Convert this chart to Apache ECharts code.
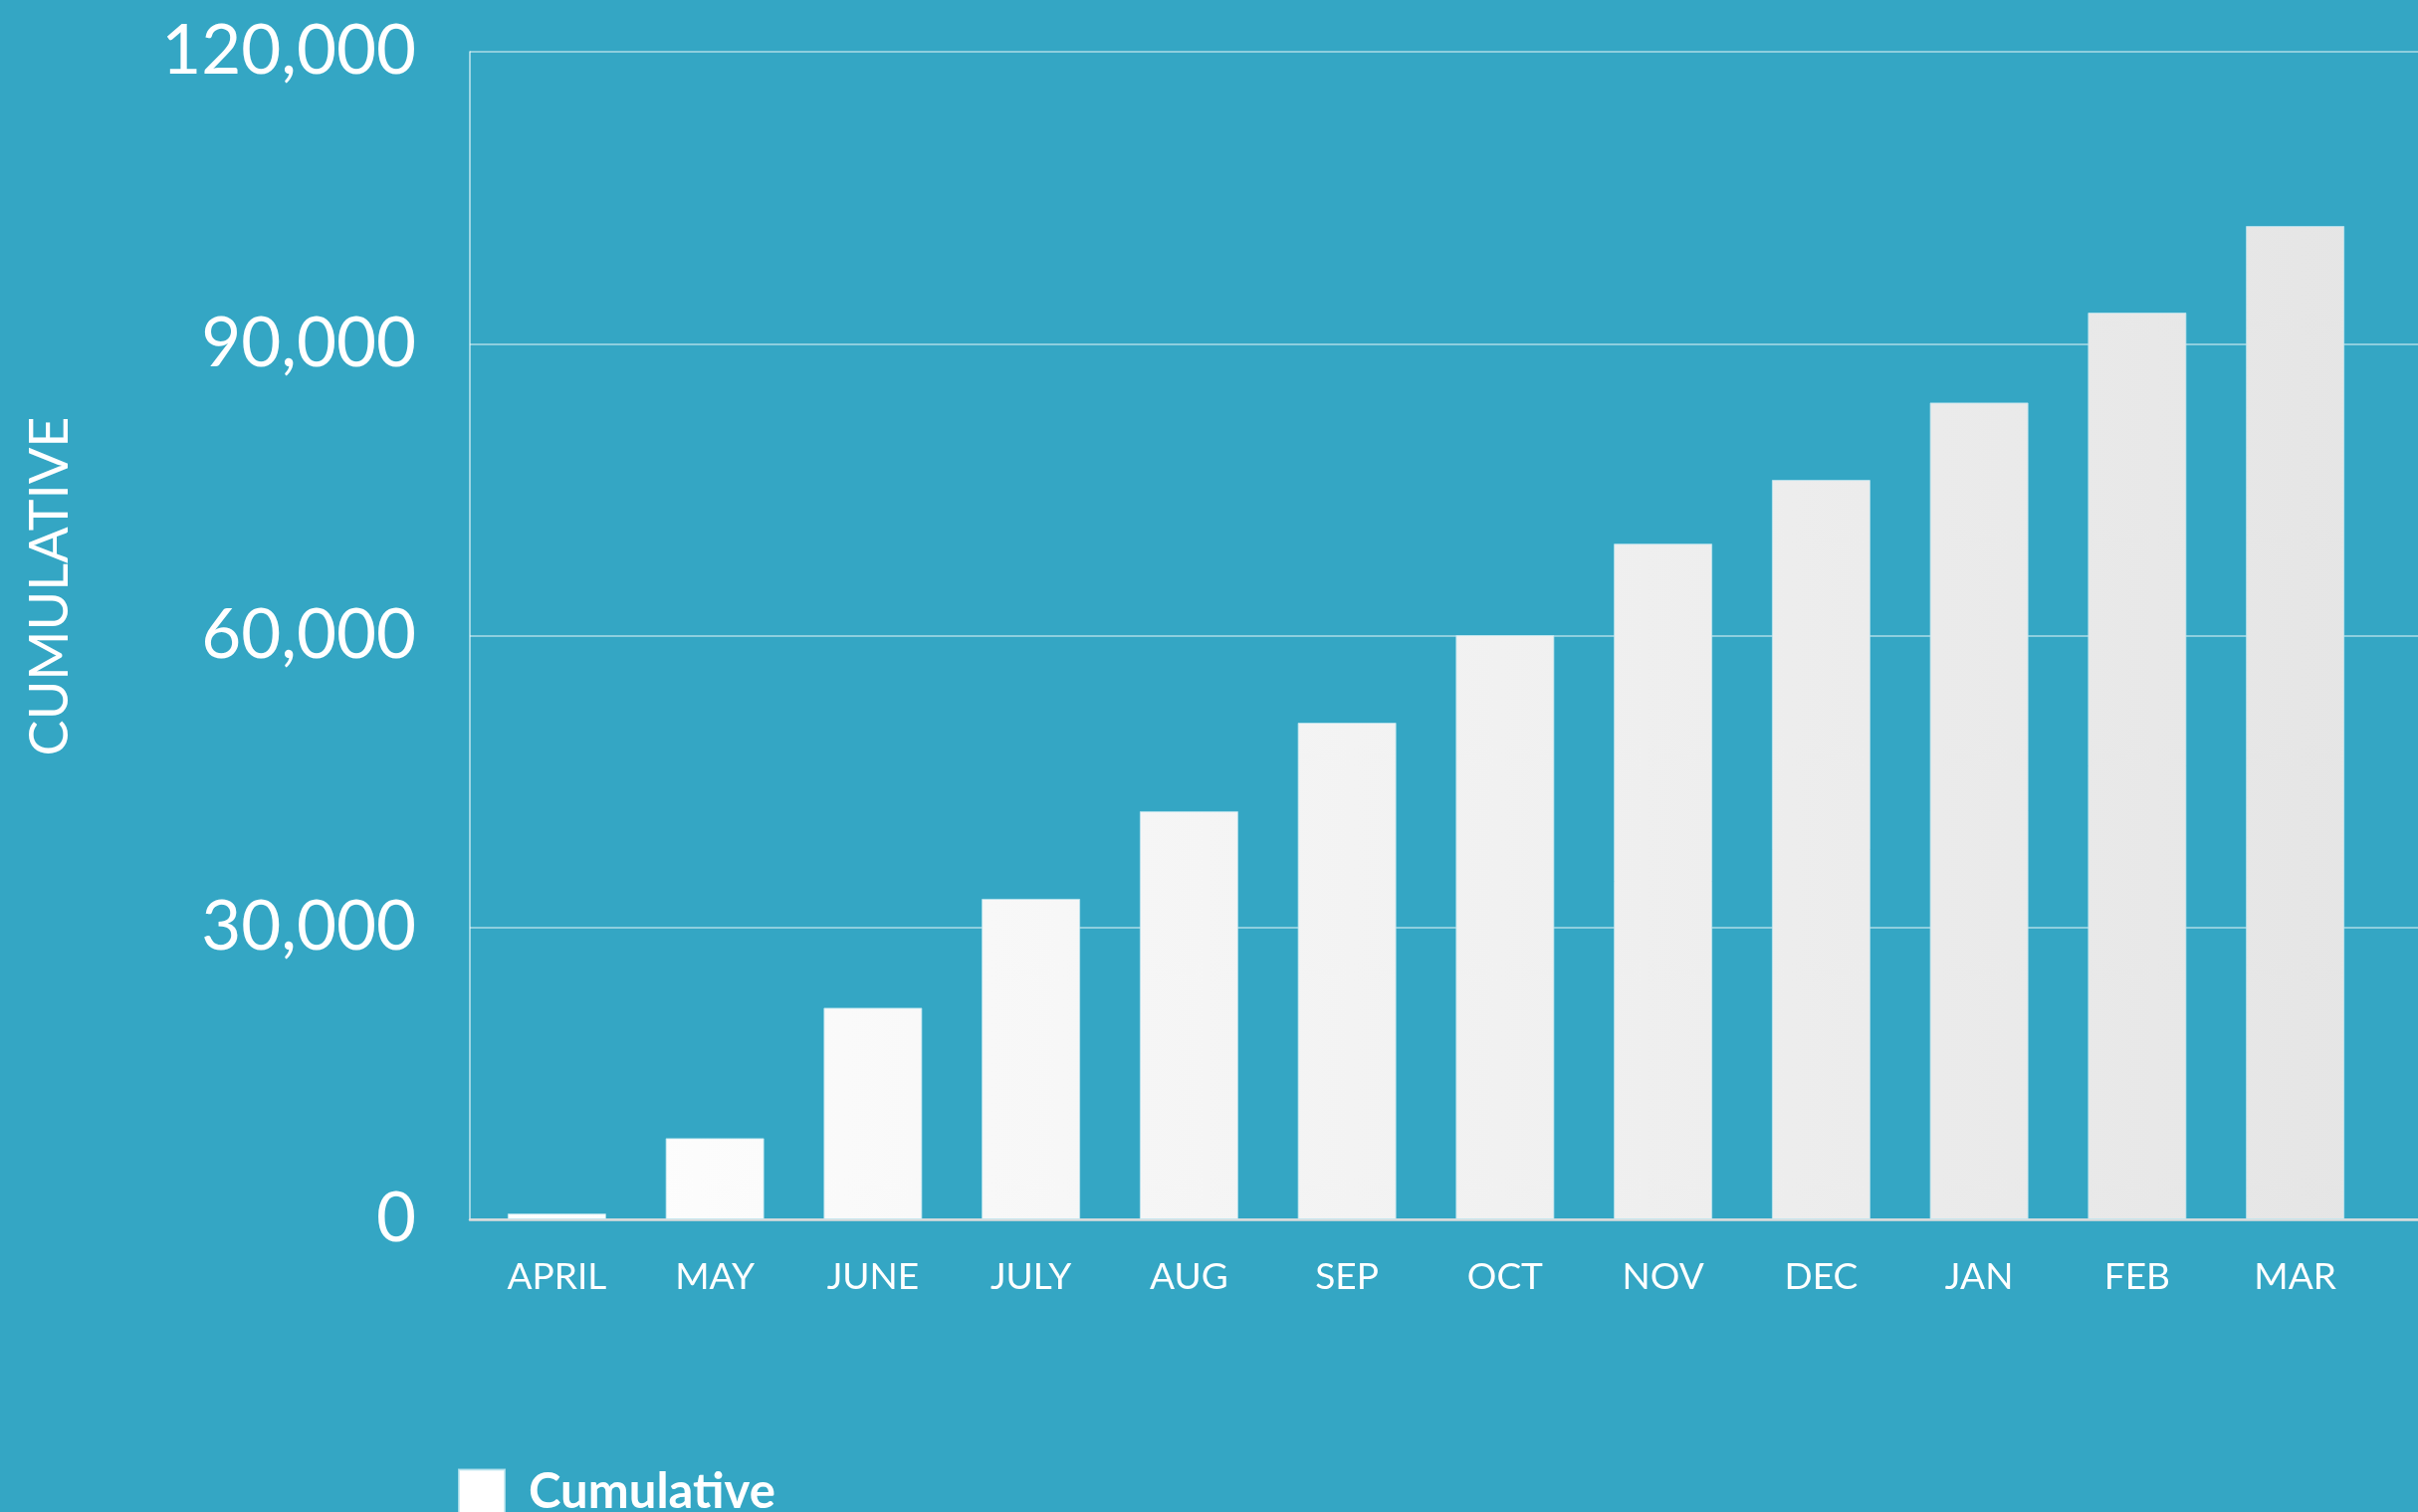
<!DOCTYPE html>
<html>
<head>
<meta charset="utf-8">
<script src="https://cdn.jsdelivr.net/npm/echarts@6/dist/echarts.min.js"></script>
<style>
  html, body { margin: 0; padding: 0; background: #34A6C4; }
  #chart { width: 2429px; height: 1519px; }
</style>
</head>
<body>
<div id="chart"></div>
<script>
const categories = ['APRIL', 'MAY', 'JUNE', 'JULY', 'AUG', 'SEP', 'OCT', 'NOV', 'DEC', 'JAN', 'FEB', 'MAR'];
const cumulativeValues = [600, 8350, 21750, 32950, 41950, 51050, 60050, 69450, 76000, 83950, 93200, 102100];
const seriesName = 'Cumulative';
const yAxisTitle = 'CUMULATIVE';
const yMin = 0, yMax = 120000, yInterval = 30000;

const chart = echarts.init(document.getElementById('chart'), null, { renderer: 'canvas' });

const font = 'Lato, "Open Sans", sans-serif';

const option = {
  backgroundColor: '#34A6C4',
  animation: false,
  grid: [
    { left: 472, right: 0, top: 52, bottom: 294, containLabel: false },
    { left: 480, right: 44, top: 52, bottom: 294, containLabel: false }
  ],
  xAxis: [
    {
      gridIndex: 0, type: 'value', min: 0, max: 1,
      axisLine: { show: true, onZero: false, lineStyle: { color: '#dcdcdc', width: 2.5 } },
      axisTick: { show: false }, axisLabel: { show: false }, splitLine: { show: false }
    },
    {
      gridIndex: 1, type: 'category', data: categories,
      axisLine: { show: false }, axisTick: { show: false },
      axisLabel: { color: '#ffffff', fontFamily: font, fontSize: 37, margin: 40 }
    }
  ],
  yAxis: [
    {
      gridIndex: 0, type: 'value', min: yMin, max: yMax, interval: yInterval,
      axisLine: { show: true, lineStyle: { color: 'rgba(255,255,255,0.7)', width: 1.5 } },
      axisTick: { show: false },
      axisLabel: {
        color: '#ffffff', fontFamily: font, fontSize: 69, margin: 54,
        formatter: v => v.toLocaleString('en-US')
      },
      splitLine: { show: true, lineStyle: { color: 'rgba(255,255,255,0.6)', width: 1.5 } }
    },
    {
      gridIndex: 1, type: 'value', min: yMin, max: yMax, interval: yInterval, show: false,
      splitLine: { show: false }
    }
  ],
  legend: {
    data: [seriesName],
    left: 455, top: 1470,
    icon: 'rect', itemWidth: 46, itemHeight: 46,
    itemStyle: { color: '#ffffff' },
    textStyle: { color: '#ffffff', fontFamily: font, fontSize: 49, fontWeight: 'bold', padding: [0, 0, 0, 19] }
  },
  graphic: [
    {
      type: 'text', x: 51, y: 589, rotation: Math.PI / 2,
      style: {
        text: yAxisTitle, fill: '#ffffff', font: '54px Lato, "Open Sans", sans-serif',
        align: 'center', verticalAlign: 'middle'
      }
    }
  ],
  series: [
    {
      name: seriesName, type: 'bar', xAxisIndex: 1, yAxisIndex: 1,
      data: cumulativeValues, barWidth: 99,
      itemStyle: {
        color: {
          type: 'linear', x: 480, y: 0, x2: 2385, y2: 0, global: true,
          colorStops: [{ offset: 0, color: '#ffffff' }, { offset: 1, color: '#e5e5e5' }]
        },
        borderColor: 'rgba(190,230,240,0.8)', borderWidth: 1
      }
    }
  ]
};
chart.setOption(option);
</script>
</body>
</html>
